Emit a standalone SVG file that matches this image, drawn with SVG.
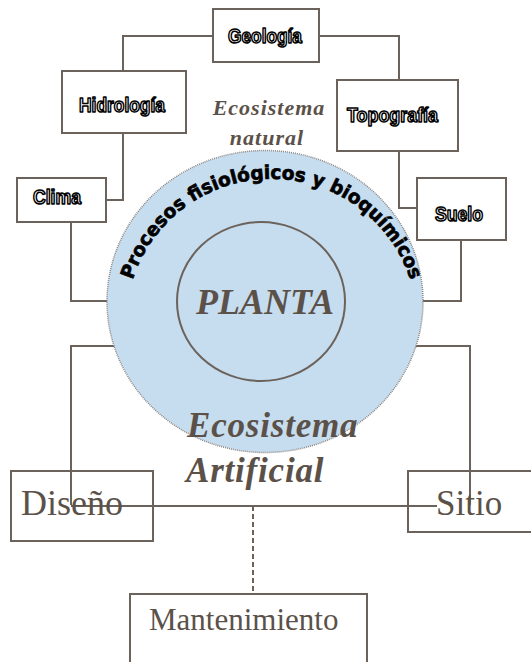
<svg xmlns="http://www.w3.org/2000/svg" width="531" height="662" viewBox="0 0 531 662">
<style>
.box{fill:#ffffff;stroke:#6b635b;stroke-width:2}
.ln{fill:none;stroke:#6b635b;stroke-width:2}
.out{font-family:"Liberation Sans",Arial,sans-serif;font-weight:bold;font-size:20px;fill:#ffffff;stroke:#000000;stroke-width:1.6;stroke-linejoin:round}
.ser{font-family:"Liberation Serif","Times New Roman",serif;fill:#5b5149}
.bi{font-family:"Liberation Serif","Times New Roman",serif;font-weight:bold;font-style:italic;fill:#5b5149}
</style>
<rect width="531" height="662" fill="#ffffff"/>
<g id="connectors">
<polyline class="ln" points="213,36 123,36 123,71"/>
<polyline class="ln" points="319,36 399,36 399,80"/>
<polyline class="ln" points="123,133 123,200 106,200"/>
<polyline class="ln" points="399,151 399,208 417,208"/>
<polyline class="ln" points="71,222 71,301 130,301"/>
<polyline class="ln" points="461,240 461,301 400,301"/>
<polyline class="ln" points="130,346 71,346 71,505"/>
<polyline class="ln" points="400,346 470,346 470,505"/>
<line class="ln" x1="71" y1="506" x2="437" y2="506"/>
<line class="ln" x1="253" y1="506" x2="253" y2="594" stroke-dasharray="5,3" stroke-width="1.5"/>
</g>
<g id="ecosistema">
<ellipse cx="265" cy="301.5" rx="158" ry="151" fill="#c6dcef" stroke="#8a8682" stroke-width="1.5" stroke-dasharray="1,1"/>
<defs><path id="arc" d="M132.6,279.9 A146,146 0 0 1 410.4,279.9"/></defs>
<text font-family="'DejaVu Sans',sans-serif" font-weight="bold" font-size="19" fill="#000000" stroke="#000000" stroke-width="0.7"><textPath href="#arc" textLength="367" lengthAdjust="spacingAndGlyphs">Procesos fisiológicos y bioquímicos</textPath></text>
</g>
<g id="planta">
<ellipse cx="261" cy="301.5" rx="84" ry="79.5" fill="none" stroke="#6b635b" stroke-width="2"/>
<text class="bi" x="265" y="314" font-size="36" text-anchor="middle">PLANTA</text>
</g>
<g id="label-natural">
<text class="bi" x="269" y="115" font-size="22" text-anchor="middle" letter-spacing="1">Ecosistema</text>
<text class="bi" x="267" y="145" font-size="22" text-anchor="middle" letter-spacing="1">natural</text>
</g>
<g id="label-artificial">
<text class="bi" x="187" y="437" font-size="35" letter-spacing="0.8">Ecosistema</text>
<text class="bi" x="186" y="482" font-size="35" letter-spacing="0.8">Artificial</text>
</g>
<g id="geologia">
<rect class="box" x="213" y="9" width="106" height="53"/>
<text class="out" x="228" y="43" textLength="74" lengthAdjust="spacingAndGlyphs">Geología</text>
</g>
<g id="hidrologia">
<rect class="box" x="62" y="71" width="124" height="62"/>
<text class="out" x="79" y="112" textLength="86" lengthAdjust="spacingAndGlyphs">Hidrología</text>
</g>
<g id="topografia">
<rect class="box" x="337" y="80" width="121" height="71"/>
<text class="out" x="347" y="122" textLength="91" lengthAdjust="spacingAndGlyphs">Topografía</text>
</g>
<g id="clima">
<rect class="box" x="17" y="178" width="89" height="44"/>
<text class="out" x="33" y="204" textLength="48" lengthAdjust="spacingAndGlyphs">Clima</text>
</g>
<g id="suelo">
<rect class="box" x="417" y="178" width="89" height="62"/>
<text class="out" x="435" y="221" textLength="48" lengthAdjust="spacingAndGlyphs">Suelo</text>
</g>
<g id="diseno">
<rect x="11" y="471" width="142" height="70" fill="none" stroke="#6b635b" stroke-width="2"/>
<text class="ser" x="21" y="515" font-size="36">Diseño</text>
</g>
<g id="sitio">
<rect x="408" y="471" width="140" height="61" fill="none" stroke="#6b635b" stroke-width="2"/>
<text class="ser" x="436" y="515" font-size="35">Sitio</text>
</g>
<g id="mantenimiento">
<rect class="box" x="130" y="594" width="237" height="80"/>
<text class="ser" x="149" y="630" font-size="31">Mantenimiento</text>
</g>
</svg>
